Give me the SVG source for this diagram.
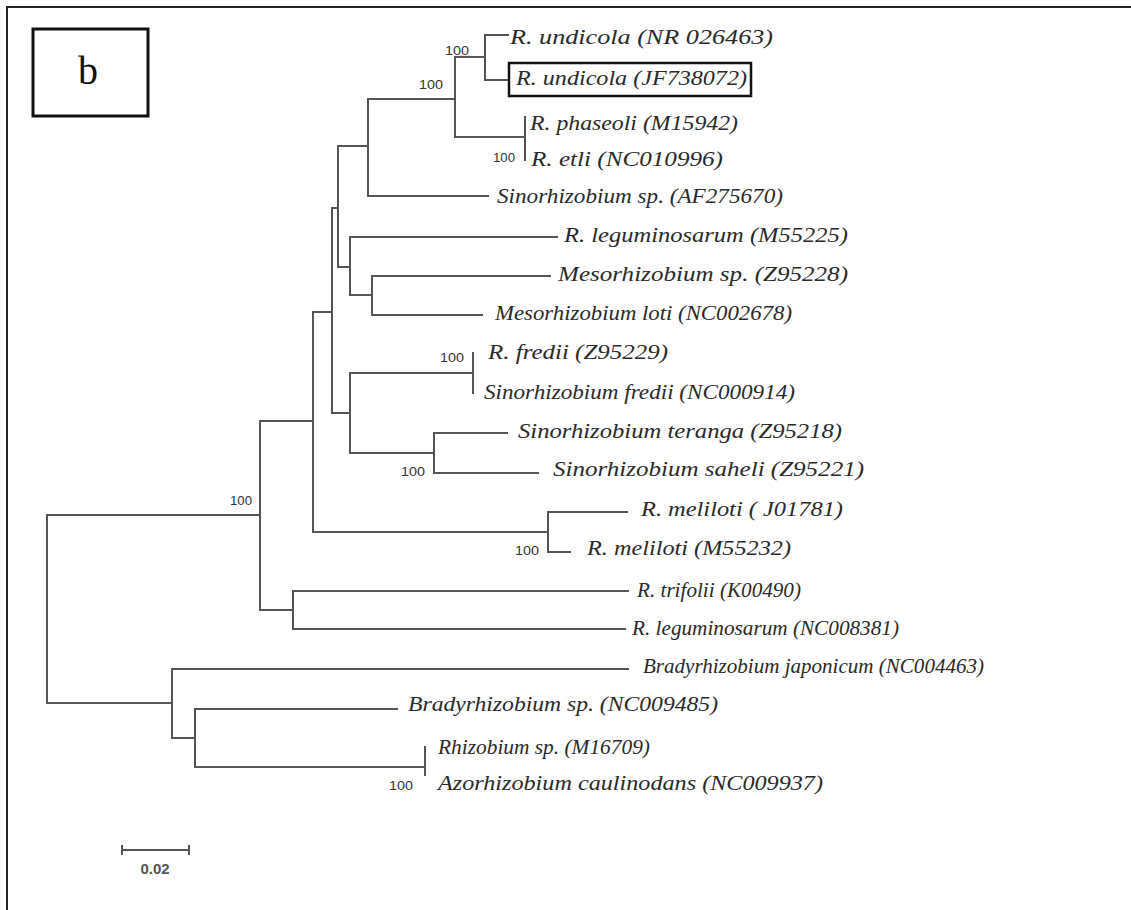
<svg xmlns="http://www.w3.org/2000/svg" width="1131" height="910" viewBox="0 0 1131 910">
<style>
.br{fill:none;stroke:#555;stroke-width:2;stroke-linecap:square}
.lab{font-family:"Liberation Serif",serif;font-style:italic;font-size:21px;fill:#2a2a2a}
.bs{font-family:"Liberation Sans",Arial,sans-serif;font-size:13px;fill:#333;text-anchor:middle}
</style>
<rect width="1131" height="910" fill="#fff"/>
<path d="M7,910 V7 H1131" fill="none" stroke="#222" stroke-width="2"/>
<g id="panel-label">
<rect x="33" y="29" width="115" height="87" fill="none" stroke="#111" stroke-width="3"/>
<text x="88" y="84" font-family="Liberation Serif,serif" font-size="40" text-anchor="middle" fill="#111">b</text>
</g>
<g id="connectors" class="br">
<path d="M47,515 V703 M47,515 H260 M47,703 H172"/>
<path d="M260,421 V610 M260,421 H313 M260,610 H293"/>
<path d="M293,591 V629 M293,591 H628 M293,629 H625"/>
<path d="M313,312 V532 M313,312 H332 M313,532 H548"/>
<path d="M548,512 V552 M548,512 H627 M548,552 H570"/>
<path d="M332,208 V413 M332,208 H338 M332,413 H350"/>
<path d="M338,146 V267 M338,146 H368 M338,267 H350"/>
<path d="M368,99 V196 M368,99 H455 M368,196 H488"/>
<path d="M455,57 V137 M455,57 H485 M455,137 H525"/>
<path d="M485,35 V80 M485,35 H508 M485,80 H508"/>
<path d="M525,117 V160"/>
<path d="M350,237 V295 M350,237 H557 M350,295 H372"/>
<path d="M372,276 V315 M372,276 H550 M372,315 H482"/>
<path d="M350,373 V453 M350,373 H473 M350,453 H434"/>
<path d="M473,353 V393"/>
<path d="M434,433 V473 M434,433 H507 M434,473 H538"/>
<path d="M172,669 V738 M172,669 H628 M172,738 H195"/>
<path d="M195,709 V767 M195,709 H397 M195,767 H425"/>
<path d="M425,747 V775"/>
</g>
<g id="bootstrap">
<text class="bs" x="457" y="55" textLength="24" lengthAdjust="spacingAndGlyphs">100</text>
<text class="bs" x="431" y="89" textLength="24" lengthAdjust="spacingAndGlyphs">100</text>
<text class="bs" x="504" y="162" textLength="22" lengthAdjust="spacingAndGlyphs">100</text>
<text class="bs" x="241" y="505" textLength="22" lengthAdjust="spacingAndGlyphs">100</text>
<text class="bs" x="452" y="362" textLength="24" lengthAdjust="spacingAndGlyphs">100</text>
<text class="bs" x="413" y="476" textLength="24" lengthAdjust="spacingAndGlyphs">100</text>
<text class="bs" x="527" y="555" textLength="24" lengthAdjust="spacingAndGlyphs">100</text>
<text class="bs" x="401" y="790" textLength="24" lengthAdjust="spacingAndGlyphs">100</text>
</g>
<g id="leaf-NR026463"><text class="lab" x="510" y="44" textLength="263" lengthAdjust="spacingAndGlyphs">R. undicola (NR 026463)</text></g>
<g id="leaf-JF738072"><rect x="509" y="63" width="242" height="33" fill="none" stroke="#111" stroke-width="2.5"/><text class="lab" x="516" y="85" textLength="231" lengthAdjust="spacingAndGlyphs">R. undicola (JF738072)</text></g>
<g id="leaf-M15942"><text class="lab" x="530" y="130" textLength="208" lengthAdjust="spacingAndGlyphs">R. phaseoli (M15942)</text></g>
<g id="leaf-NC010996"><text class="lab" x="531" y="166" textLength="192" lengthAdjust="spacingAndGlyphs">R. etli (NC010996)</text></g>
<g id="leaf-AF275670"><text class="lab" x="497" y="203" textLength="286" lengthAdjust="spacingAndGlyphs">Sinorhizobium sp. (AF275670)</text></g>
<g id="leaf-M55225"><text class="lab" x="564" y="242" textLength="284" lengthAdjust="spacingAndGlyphs">R. leguminosarum (M55225)</text></g>
<g id="leaf-Z95228"><text class="lab" x="558" y="281" textLength="290" lengthAdjust="spacingAndGlyphs">Mesorhizobium sp. (Z95228)</text></g>
<g id="leaf-NC002678"><text class="lab" x="495" y="320" textLength="297" lengthAdjust="spacingAndGlyphs">Mesorhizobium loti (NC002678)</text></g>
<g id="leaf-Z95229"><text class="lab" x="488" y="359" textLength="180" lengthAdjust="spacingAndGlyphs">R. fredii (Z95229)</text></g>
<g id="leaf-NC000914"><text class="lab" x="484" y="399" textLength="311" lengthAdjust="spacingAndGlyphs">Sinorhizobium fredii (NC000914)</text></g>
<g id="leaf-Z95218"><text class="lab" x="518" y="438" textLength="324" lengthAdjust="spacingAndGlyphs">Sinorhizobium teranga (Z95218)</text></g>
<g id="leaf-Z95221"><text class="lab" x="553" y="476" textLength="311" lengthAdjust="spacingAndGlyphs">Sinorhizobium saheli (Z95221)</text></g>
<g id="leaf-J01781"><text class="lab" x="641" y="516" textLength="202" lengthAdjust="spacingAndGlyphs">R. meliloti ( J01781)</text></g>
<g id="leaf-M55232"><text class="lab" x="587" y="555" textLength="204" lengthAdjust="spacingAndGlyphs">R. meliloti (M55232)</text></g>
<g id="leaf-K00490"><text class="lab" x="637" y="597" textLength="164" lengthAdjust="spacingAndGlyphs">R. trifolii (K00490)</text></g>
<g id="leaf-NC008381"><text class="lab" x="632" y="635" textLength="267" lengthAdjust="spacingAndGlyphs">R. leguminosarum (NC008381)</text></g>
<g id="leaf-NC004463"><text class="lab" x="643" y="673" textLength="341" lengthAdjust="spacingAndGlyphs">Bradyrhizobium japonicum (NC004463)</text></g>
<g id="leaf-NC009485"><text class="lab" x="408" y="711" textLength="310" lengthAdjust="spacingAndGlyphs">Bradyrhizobium sp. (NC009485)</text></g>
<g id="leaf-M16709"><text class="lab" x="438" y="754" textLength="212" lengthAdjust="spacingAndGlyphs">Rhizobium sp. (M16709)</text></g>
<g id="leaf-NC009937"><text class="lab" x="438" y="790" textLength="385" lengthAdjust="spacingAndGlyphs">Azorhizobium caulinodans (NC009937)</text></g>
<g id="scale-bar">
<path d="M122,850 H189 M122,845 V855 M189,845 V855" fill="none" stroke="#555" stroke-width="2"/>
<text x="155" y="874" font-family="Liberation Sans,Arial,sans-serif" font-size="15" font-weight="bold" fill="#555" text-anchor="middle">0.02</text>
</g>
</svg>
